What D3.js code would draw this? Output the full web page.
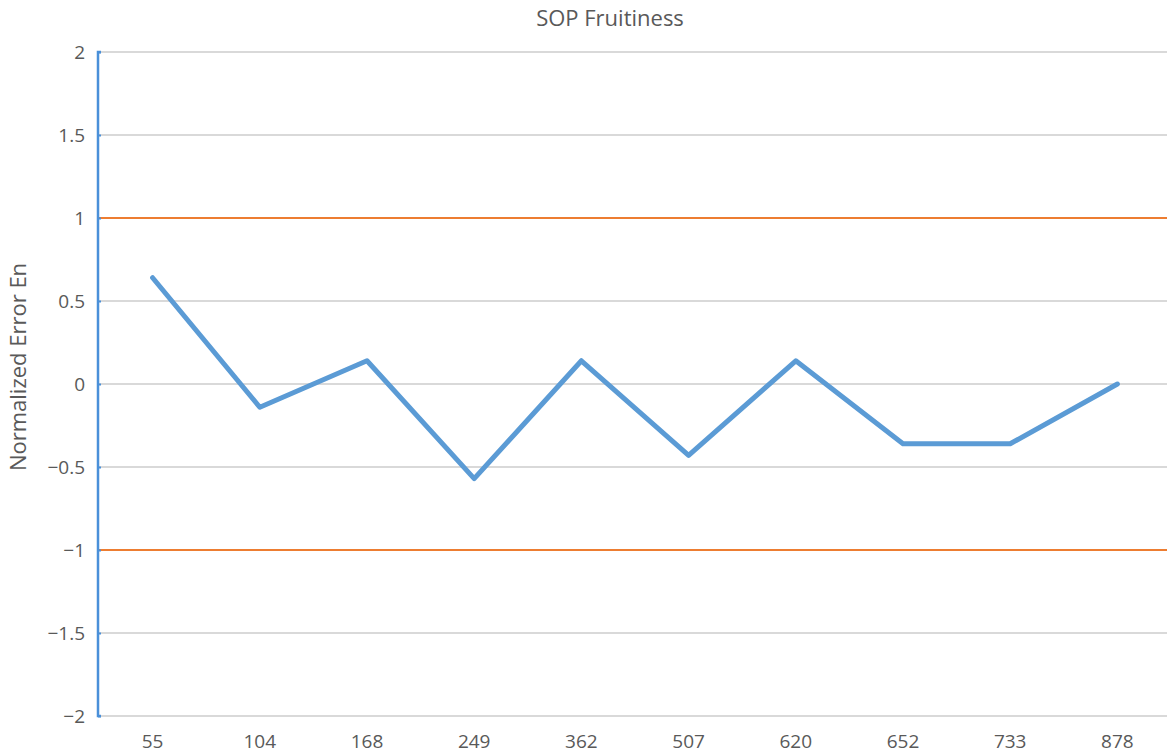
<!DOCTYPE html>
<html><head><meta charset="utf-8">
<script src="https://cdn.jsdelivr.net/npm/d3@7"></script>
<style>body{margin:0;background:#fff}svg{display:block}text{font-family:"Open Sans",Lato,sans-serif;fill:#595959}</style>
</head><body>
<svg id="c" width="1167" height="756"></svg>
<script>
const categories = ["55","104","168","249","362","507","620","652","733","878"];
const values = [0.64,-0.14,0.14,-0.57,0.14,-0.43,0.14,-0.36,-0.36,0];
const yTicks = [-2,-1.5,-1,-0.5,0,0.5,1,1.5,2];
const limits = [1,-1];
const title = "SOP Fruitiness";
const yLabel = "Normalized Error En";

const svg = d3.select("#c");
const m = {l:99, r:1171, t:52, b:716};
const x = d3.scalePoint().domain(categories).range([m.l, m.r]).padding(0.5);
const y = d3.scaleLinear().domain([-2,2]).range([m.b, m.t]);
const fmt = d => d < 0 ? "\u2212" + Math.abs(d) : String(d);

svg.append("g").selectAll("line").data(yTicks).join("line")
  .attr("x1", m.l).attr("x2", 1167).attr("y1", d=>y(d)).attr("y2", d=>y(d))
  .attr("stroke", "#d9d9d9").attr("stroke-width", 2);

svg.append("g").selectAll("line").data(limits).join("line")
  .attr("x1", m.l).attr("x2", 1167).attr("y1", d=>y(d)).attr("y2", d=>y(d))
  .attr("stroke", "#ed7d31").attr("stroke-width", 2);

const ya = svg.append("g").attr("transform", `translate(${m.l-1},0)`)
  .call(d3.axisRight(y).tickValues(yTicks).tickSize(3).tickFormat(""));
ya.select(".domain").attr("stroke", "#4a90d9").attr("stroke-width", 2.5).attr("d", `M3,${m.t}H0V${m.b}H3`);
ya.selectAll(".tick line").attr("stroke", "#4a90d9").attr("stroke-width", 2);

svg.append("g").selectAll("text").data(yTicks).join("text")
  .attr("x", 85).attr("y", d=>y(d)).attr("dy", "0.36em").attr("text-anchor", "end")
  .style("font-size", "19px").text(fmt);

svg.append("g").selectAll("text").data(categories).join("text")
  .attr("x", d=>x(d)).attr("y", 748).attr("text-anchor", "middle")
  .style("font-size", "19px").text(d=>d);

svg.append("path").datum(values)
  .attr("fill", "none").attr("stroke", "#5b9bd5").attr("stroke-width", 5)
  .attr("stroke-linejoin", "round").attr("stroke-linecap", "round")
  .attr("d", d3.line().x((d,i)=>x(categories[i])).y(d=>y(d)));

svg.append("text").attr("x", 610).attr("y", 26).attr("text-anchor", "middle")
  .style("font-size", "22px").text(title);

svg.append("text").attr("transform", `translate(26,367) rotate(-90)`)
  .attr("text-anchor", "middle").style("font-size", "22px").text(yLabel);
</script>
</body></html>
